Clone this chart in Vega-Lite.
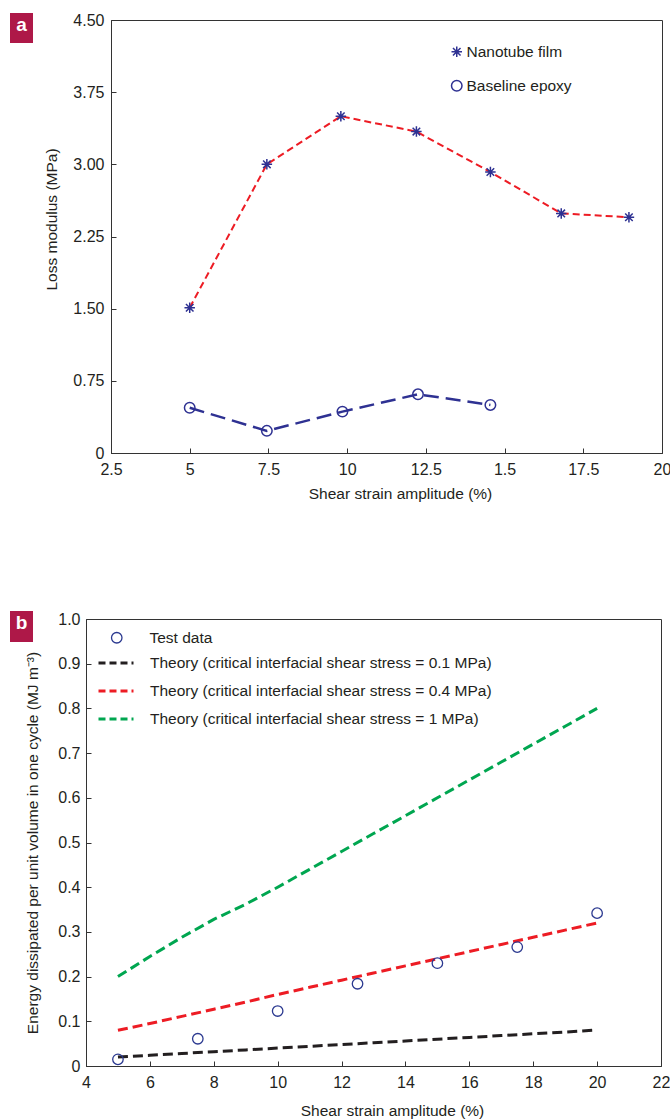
{
  "$schema": "https://vega.github.io/schema/vega-lite/v6.json",
  "background": "white",
  "padding": {"left": 10, "top": 11, "right": 0, "bottom": 0},
  "config": {
    "font": "Liberation Sans, Arial, sans-serif",
    "view": {"stroke": "#333333", "strokeWidth": 1},
    "axis": {
      "labelFontSize": 16,
      "labelColor": "#231f20",
      "labelFlush": false,
      "titleFontSize": 15.5,
      "titleFontWeight": "normal",
      "titleColor": "#231f20",
      "domainColor": "#333333",
      "tickColor": "#333333",
      "tickSize": -5,
      "grid": false
    },
    "axisX": {"labelPadding": 13},
    "axisY": {"labelPadding": 12},
    "legend": {"labelFontSize": 15.5, "labelColor": "#231f20", "labelLimit": 0}
  },
  "datasets": {
    "panelA": [
      {"strain": 5, "loss": 1.51, "series": "Nanotube film"},
      {"strain": 7.45, "loss": 3.0, "series": "Nanotube film"},
      {"strain": 9.8, "loss": 3.5, "series": "Nanotube film"},
      {"strain": 12.2, "loss": 3.34, "series": "Nanotube film"},
      {"strain": 14.55, "loss": 2.92, "series": "Nanotube film"},
      {"strain": 16.8, "loss": 2.49, "series": "Nanotube film"},
      {"strain": 18.95, "loss": 2.45, "series": "Nanotube film"},
      {"strain": 5, "loss": 0.47, "series": "Baseline epoxy"},
      {"strain": 7.45, "loss": 0.23, "series": "Baseline epoxy"},
      {"strain": 9.85, "loss": 0.43, "series": "Baseline epoxy"},
      {"strain": 12.25, "loss": 0.61, "series": "Baseline epoxy"},
      {"strain": 14.55, "loss": 0.5, "series": "Baseline epoxy"}
    ],
    "testB": [
      {"strain": 5, "energy": 0.015, "series": "Test data"},
      {"strain": 7.5, "energy": 0.061, "series": "Test data"},
      {"strain": 10, "energy": 0.123, "series": "Test data"},
      {"strain": 12.5, "energy": 0.184, "series": "Test data"},
      {"strain": 15, "energy": 0.23, "series": "Test data"},
      {"strain": 17.5, "energy": 0.266, "series": "Test data"},
      {"strain": 20, "energy": 0.342, "series": "Test data"}
    ],
    "theoryB": [
      {"strain": 5, "energy": 0.02, "series": "Theory (critical interfacial shear stress = 0.1 MPa)"},
      {"strain": 6, "energy": 0.024, "series": "Theory (critical interfacial shear stress = 0.1 MPa)"},
      {"strain": 7, "energy": 0.028, "series": "Theory (critical interfacial shear stress = 0.1 MPa)"},
      {"strain": 8, "energy": 0.032, "series": "Theory (critical interfacial shear stress = 0.1 MPa)"},
      {"strain": 9, "energy": 0.036, "series": "Theory (critical interfacial shear stress = 0.1 MPa)"},
      {"strain": 10, "energy": 0.04, "series": "Theory (critical interfacial shear stress = 0.1 MPa)"},
      {"strain": 11, "energy": 0.044, "series": "Theory (critical interfacial shear stress = 0.1 MPa)"},
      {"strain": 12, "energy": 0.048, "series": "Theory (critical interfacial shear stress = 0.1 MPa)"},
      {"strain": 13, "energy": 0.052, "series": "Theory (critical interfacial shear stress = 0.1 MPa)"},
      {"strain": 14, "energy": 0.056, "series": "Theory (critical interfacial shear stress = 0.1 MPa)"},
      {"strain": 15, "energy": 0.06, "series": "Theory (critical interfacial shear stress = 0.1 MPa)"},
      {"strain": 16, "energy": 0.064, "series": "Theory (critical interfacial shear stress = 0.1 MPa)"},
      {"strain": 17, "energy": 0.068, "series": "Theory (critical interfacial shear stress = 0.1 MPa)"},
      {"strain": 18, "energy": 0.072, "series": "Theory (critical interfacial shear stress = 0.1 MPa)"},
      {"strain": 19, "energy": 0.076, "series": "Theory (critical interfacial shear stress = 0.1 MPa)"},
      {"strain": 19.9, "energy": 0.08, "series": "Theory (critical interfacial shear stress = 0.1 MPa)"},
      {"strain": 5, "energy": 0.08, "series": "Theory (critical interfacial shear stress = 0.4 MPa)"},
      {"strain": 6, "energy": 0.095, "series": "Theory (critical interfacial shear stress = 0.4 MPa)"},
      {"strain": 7, "energy": 0.111, "series": "Theory (critical interfacial shear stress = 0.4 MPa)"},
      {"strain": 8, "energy": 0.127, "series": "Theory (critical interfacial shear stress = 0.4 MPa)"},
      {"strain": 9, "energy": 0.143, "series": "Theory (critical interfacial shear stress = 0.4 MPa)"},
      {"strain": 10, "energy": 0.16, "series": "Theory (critical interfacial shear stress = 0.4 MPa)"},
      {"strain": 11, "energy": 0.176, "series": "Theory (critical interfacial shear stress = 0.4 MPa)"},
      {"strain": 12, "energy": 0.192, "series": "Theory (critical interfacial shear stress = 0.4 MPa)"},
      {"strain": 13, "energy": 0.208, "series": "Theory (critical interfacial shear stress = 0.4 MPa)"},
      {"strain": 14, "energy": 0.224, "series": "Theory (critical interfacial shear stress = 0.4 MPa)"},
      {"strain": 15, "energy": 0.24, "series": "Theory (critical interfacial shear stress = 0.4 MPa)"},
      {"strain": 16, "energy": 0.256, "series": "Theory (critical interfacial shear stress = 0.4 MPa)"},
      {"strain": 17, "energy": 0.272, "series": "Theory (critical interfacial shear stress = 0.4 MPa)"},
      {"strain": 18, "energy": 0.288, "series": "Theory (critical interfacial shear stress = 0.4 MPa)"},
      {"strain": 19, "energy": 0.304, "series": "Theory (critical interfacial shear stress = 0.4 MPa)"},
      {"strain": 20, "energy": 0.32, "series": "Theory (critical interfacial shear stress = 0.4 MPa)"},
      {"strain": 5, "energy": 0.2, "series": "Theory (critical interfacial shear stress = 1 MPa)"},
      {"strain": 6, "energy": 0.245, "series": "Theory (critical interfacial shear stress = 1 MPa)"},
      {"strain": 7, "energy": 0.288, "series": "Theory (critical interfacial shear stress = 1 MPa)"},
      {"strain": 8, "energy": 0.328, "series": "Theory (critical interfacial shear stress = 1 MPa)"},
      {"strain": 9, "energy": 0.362, "series": "Theory (critical interfacial shear stress = 1 MPa)"},
      {"strain": 10, "energy": 0.4, "series": "Theory (critical interfacial shear stress = 1 MPa)"},
      {"strain": 11, "energy": 0.44, "series": "Theory (critical interfacial shear stress = 1 MPa)"},
      {"strain": 12, "energy": 0.48, "series": "Theory (critical interfacial shear stress = 1 MPa)"},
      {"strain": 13, "energy": 0.52, "series": "Theory (critical interfacial shear stress = 1 MPa)"},
      {"strain": 14, "energy": 0.56, "series": "Theory (critical interfacial shear stress = 1 MPa)"},
      {"strain": 15, "energy": 0.6, "series": "Theory (critical interfacial shear stress = 1 MPa)"},
      {"strain": 16, "energy": 0.64, "series": "Theory (critical interfacial shear stress = 1 MPa)"},
      {"strain": 17, "energy": 0.68, "series": "Theory (critical interfacial shear stress = 1 MPa)"},
      {"strain": 18, "energy": 0.72, "series": "Theory (critical interfacial shear stress = 1 MPa)"},
      {"strain": 19, "energy": 0.76, "series": "Theory (critical interfacial shear stress = 1 MPa)"},
      {"strain": 20, "energy": 0.8, "series": "Theory (critical interfacial shear stress = 1 MPa)"}
    ]
  },
  "spacing": 108,
  "vconcat": [
    {
      "spacing": 11,
      "hconcat": [
        {
          "width": 23,
          "height": 23,
          "view": {"stroke": null},
          "data": {"values": [{"panel": "a"}]},
          "layer": [
            {"mark": {"type": "rect", "color": "#ae1848", "yOffset": -7, "y2Offset": -7}},
            {
              "mark": {"type": "text", "color": "white", "fontWeight": "bold", "fontSize": 19, "font": "Liberation Sans", "align": "center", "baseline": "middle", "dy": -7},
              "encoding": {"text": {"field": "panel"}}
            }
          ]
        },
        {
          "width": 551,
          "height": 433,
          "data": {"name": "panelA"},
          "encoding": {
            "x": {
              "field": "strain",
              "type": "quantitative",
              "scale": {"domain": [2.5, 20], "nice": false, "zero": false},
              "axis": {
                "title": "Shear strain amplitude (%)",
                "values": [2.5, 5, 7.5, 10, 12.5, 15, 17.5, 20],
                "labelExpr": "datum.value == 15 ? '1.5' : '' + datum.value",
                "titlePadding": 9,
                "titleX": 289
              }
            },
            "y": {
              "field": "loss",
              "type": "quantitative",
              "scale": {"domain": [0, 4.5], "nice": false},
              "axis": {
                "title": "Loss modulus (MPa)",
                "values": [0, 0.75, 1.5, 2.25, 3, 3.75, 4.5],
                "labelExpr": "datum.value == 0 ? '0' : format(datum.value, '.2f')",
                "titlePadding": 13,
                "titleY": 199
              }
            }
          },
          "layer": [
            {
              "transform": [{"filter": "datum.series === 'Nanotube film'"}],
              "mark": {"type": "line", "color": "#ed1c24", "strokeDash": [7, 4], "strokeWidth": 2}
            },
            {
              "transform": [{"filter": "datum.series === 'Baseline epoxy'"}],
              "mark": {"type": "line", "color": "#2e3192", "strokeDash": [15, 7], "strokeWidth": 2.5}
            },
            {
              "mark": {"type": "point", "filled": false, "color": "#2e3192", "size": 110, "strokeWidth": 1.5, "opacity": 1},
              "encoding": {
                "shape": {
                  "field": "series",
                  "type": "nominal",
                  "scale": {
                    "domain": ["Nanotube film", "Baseline epoxy"],
                    "range": ["M0,-1L0,1M-1,0L1,0M-0.72,-0.72L0.72,0.72M-0.72,0.72L0.72,-0.72", "circle"]
                  },
                  "legend": {
                    "title": null,
                    "orient": "none",
                    "legendX": 439,
                    "legendY": 24,
                    "labelOffset": 2,
                    "rowPadding": 16,
                    "symbolSize": 110,
                    "symbolStrokeColor": "#2e3192",
                    "symbolStrokeWidth": 1.5,
                    "symbolFillColor": "transparent"
                  }
                }
              }
            }
          ]
        }
      ]
    },
    {
      "spacing": -8,
      "hconcat": [
        {
          "width": 23,
          "height": 23,
          "view": {"stroke": null},
          "data": {"values": [{"panel": "b"}]},
          "layer": [
            {"mark": {"type": "rect", "color": "#ae1848", "yOffset": -8, "y2Offset": -8}},
            {
              "mark": {"type": "text", "color": "white", "fontWeight": "bold", "fontSize": 19, "font": "Liberation Sans", "align": "center", "baseline": "middle", "dy": -8},
              "encoding": {"text": {"field": "panel"}}
            }
          ]
        },
        {
          "width": 575,
          "height": 447,
          "encoding": {
            "x": {
              "field": "strain",
              "type": "quantitative",
              "scale": {"domain": [4, 22], "nice": false, "zero": false},
              "axis": {
                "title": "Shear strain amplitude (%)",
                "values": [4, 6, 8, 10, 12, 14, 16, 18, 20, 22],
                "format": "d",
                "titlePadding": 13,
                "titleX": 306
              }
            },
            "y": {
              "field": "energy",
              "type": "quantitative",
              "scale": {"domain": [0, 1], "nice": false},
              "axis": {
                "title": "Energy dissipated per unit volume in one cycle (MJ m⁻³)",
                "values": [0, 0.1, 0.2, 0.3, 0.4, 0.5, 0.6, 0.7, 0.8, 0.9, 1],
                "labelExpr": "datum.value == 0 ? '0' : format(datum.value, '.1f')",
                "labelPadding": 11,
                "titlePadding": 17
              }
            }
          },
          "layer": [
            {
              "data": {"name": "theoryB"},
              "mark": {"type": "line", "strokeDash": [10, 5], "strokeWidth": 3},
              "encoding": {
                "color": {
                  "field": "series",
                  "type": "nominal",
                  "scale": {
                    "domain": [
                      "Theory (critical interfacial shear stress = 0.1 MPa)",
                      "Theory (critical interfacial shear stress = 0.4 MPa)",
                      "Theory (critical interfacial shear stress = 1 MPa)"
                    ],
                    "range": ["#231f20", "#ed1c24", "#00a650"]
                  },
                  "legend": {
                    "title": null,
                    "orient": "none",
                    "legendX": 11,
                    "legendY": 25,
                    "symbolType": "stroke",
                    "symbolSize": 1225,
                    "symbolStrokeWidth": 3,
                    "symbolDash": [7, 4],
                    "labelOffset": 15,
                    "rowPadding": 0
                  }
                }
              }
            },
            {
              "data": {"name": "testB"},
              "mark": {"type": "point", "filled": false, "size": 110, "strokeWidth": 1.3, "opacity": 1},
              "encoding": {
                "color": {
                  "field": "series",
                  "type": "nominal",
                  "scale": {"domain": ["Test data"], "range": ["#2b3990"]},
                  "legend": {
                    "title": null,
                    "orient": "none",
                    "legendX": 23,
                    "legendY": 11,
                    "symbolType": "circle",
                    "symbolSize": 110,
                    "symbolStrokeWidth": 1.3,
                    "symbolFillColor": "transparent",
                    "labelOffset": 25
                  }
                }
              }
            }
          ],
          "resolve": {"scale": {"color": "independent"}, "legend": {"color": "independent"}}
        }
      ]
    }
  ]
}
